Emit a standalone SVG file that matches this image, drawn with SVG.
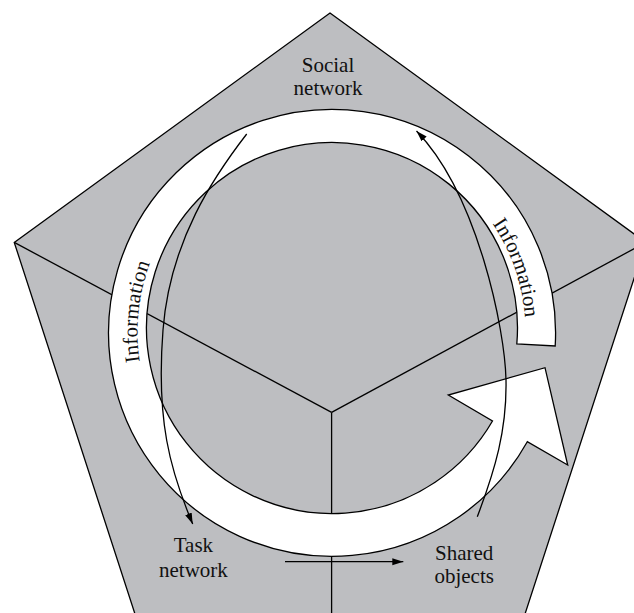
<svg xmlns="http://www.w3.org/2000/svg" width="634" height="613" viewBox="0 0 634 613">
<style>
.ln{fill:none;stroke:#000;stroke-width:1.3}
.lbl{font-family:"Liberation Serif","Times New Roman",serif;font-size:21px;fill:#111;text-anchor:middle}
.conn{fill:none;stroke:#000;stroke-width:1.3}
</style>
<defs>
<marker id="ah" markerUnits="userSpaceOnUse" markerWidth="12" markerHeight="8" refX="11" refY="3.5" orient="auto">
<path d="M0,0 L11,3.5 L0,7 z" fill="#000"/>
</marker>
<path id="textring" d="M525.5,332 A194,194 0 1 1 137.5,332 A194,194 0 1 1 525.5,332"/>
</defs>
<g id="pentagon">
<polygon points="330,13 645.75,242.4 525.15,613.6 134.85,613.6 14.25,242.4" fill="#bdbec1" stroke="#000" stroke-width="1.3"/>
</g>
<g id="dividers">
<line class="ln" x1="331.6" y1="412.4" x2="14.25" y2="242.4"/>
<line class="ln" x1="331.6" y1="412.4" x2="645.75" y2="242.4"/>
<line class="ln" x1="331.6" y1="412.4" x2="331.6" y2="614"/>
</g>
<g id="information-ring">
<path d="M555.2,346 A223.5,223.5 0 1 0 527.3,441.7 L567.7,465 L545,367.7 L448.3,395 L492.5,421 A185.5,185.5 0 1 1 516.8,344 Z" fill="#fff" stroke="#000" stroke-width="1.3" stroke-linejoin="miter"/>
<text class="lbl"><textPath href="#textring" startOffset="1153.7">Information</textPath></text>
<text class="lbl"><textPath href="#textring" startOffset="629.4">Information</textPath></text>
</g>
<g id="connectors">
<path class="conn" d="M246.7,134 C215,175 170,240 163,330 S170,470 192.7,524" marker-end="url(#ah)"/>
<path class="conn" d="M477.3,516.7 C495,470 507,430 506,380 S478,195 416.5,131" marker-end="url(#ah)"/>
<path class="conn" d="M285,561.7 L403.3,561.7" marker-end="url(#ah)"/>
</g>
<g id="social-network">
<text class="lbl" x="328" y="71.7">Social</text>
<text class="lbl" x="328" y="95">network</text>
</g>
<g id="task-network">
<text class="lbl" x="193.4" y="551.7">Task</text>
<text class="lbl" x="193.4" y="576.7">network</text>
</g>
<g id="shared-objects">
<text class="lbl" x="464.2" y="560">Shared</text>
<text class="lbl" x="464.2" y="582.5">objects</text>
</g>
</svg>
